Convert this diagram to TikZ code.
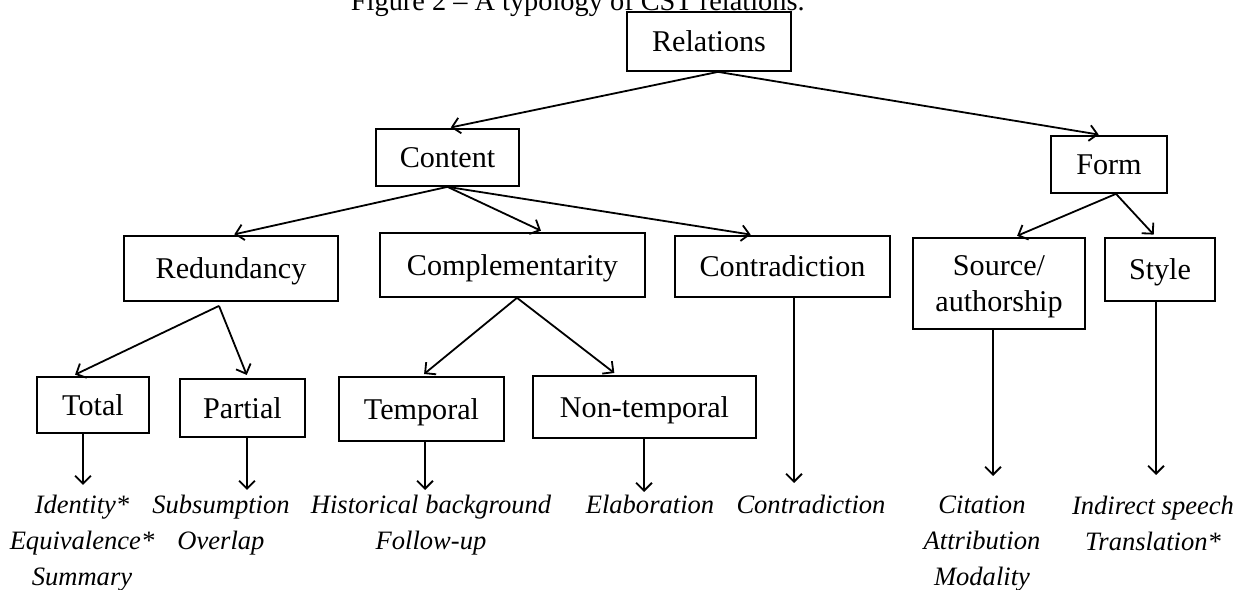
\documentclass[tikz,border=0pt]{standalone}
\usepackage{fontspec}
\setmainfont{Liberation Serif}
\usetikzlibrary{calc,arrows.meta}

\begin{document}
\begin{tikzpicture}[x=0.4444pt, y=-0.4444pt, line width=0.8pt,
  box/.style={draw, rectangle, inner sep=0pt, align=center, text height=8.9pt, text depth=0pt, font=\fontsize{13.4}{16}\selectfont},
  lbl/.style={anchor=north, inner sep=0pt, align=center, font=\fontsize{11.8}{16}\selectfont\itshape},
  arr/.style={-{Straight Barb[length=3.5pt,width=7pt]}},
  tree/.style={arr, shorten >=1.5pt}]
\useasboundingbox (0,0) rectangle (1235,590);
\node[anchor=base east, font=\fontsize{12.6}{16}\selectfont] (title) at (813,11) {Figure 2 – A typology of CST relations.};

% upper levels
\node[box, minimum width=72.9pt, minimum height=26.2pt] (rel) at (709,41.5) {Relations};
\node[box, minimum width=63.6pt, minimum height=25.3pt] (content) at (447.5,157.5) {Content};
\node[box, minimum width=51.6pt, minimum height=25.3pt] (form) at (1109,164.5) {Form};
\node[box, minimum width=95.1pt, minimum height=28.9pt] (red) at (231,268.5) {Redundancy};
\node[box, minimum width=117.8pt, minimum height=28.4pt] (comp) at (512.5,265) {Complementarity};
\node[box, minimum width=95.6pt, minimum height=27.1pt] (contr) at (782.5,266.5) {Contradiction};
\node[draw, inner sep=0pt, align=center, text depth=0pt, font=\fontsize{13.4}{16}\selectfont,
  minimum width=76.4pt, minimum height=40.4pt] (src) at (999,283.5) {Source/\\authorship};
\node[box, minimum width=48.9pt, minimum height=28pt] (sty) at (1160,269.5) {Style};

% lower level
\node[box, minimum width=49.8pt, minimum height=24.9pt] (total) at (93,405) {Total};
\node[box, minimum width=55.6pt, minimum height=25.8pt] (partial) at (242.5,408) {Partial};
\node[box, minimum width=73.3pt, minimum height=28.4pt] (temp) at (421.5,409) {Temporal};
\node[box, minimum width=99.1pt, minimum height=27.6pt] (nontemp) at (644.5,407) {Non-temporal};

\draw[tree] ($(rel.south)+(9,0)$) -- (content.north);
\draw[tree] ($(rel.south)+(9,0)$) -- ($(form.north)+(-7,0)$);
\draw[tree] (content.south) -- (red.north);
\draw[tree] (content.south) -- ($(comp.north)+(31.5,0)$);
\draw[tree] (content.south) -- ($(contr.north)+(-28.5,0)$);
\draw[tree] ($(form.south)+(7,0)$) -- ($(src.north)+(15,0)$);
\draw[tree] ($(form.south)+(7,0)$) -- ($(sty.north)+(-4,0)$);
\draw[tree] ($(red.south)+(-12,4)$) -- ($(total.north)+(-21,0)$);
\draw[tree] ($(red.south)+(-12,4)$) -- ($(partial.north)+(5.5,0)$);
\draw[tree] ($(comp.south)+(4.5,0)$) -- (temp.north);
\draw[tree] ($(comp.south)+(4.5,0)$) -- ($(nontemp.north)+(-27.5,0)$);

% relation types
\node[lbl] (l-total) at (82,494) {Identity*\\Equivalence*\\Summary};
\node[lbl] (l-partial) at (221,494) {Subsumption\\Overlap};
\node[lbl] (l-temp) at (431,494) {Historical background\\Follow-up};
\node[lbl] (l-nontemp) at (650,494) {Elaboration};
\node[lbl] (l-contr) at (811,494) {Contradiction};
\node[lbl] (l-src) at (982,495) {Citation\\Attribution\\Modality};
\node[lbl] (l-sty) at (1153,495) {Indirect speech\\Translation*};

\coordinate (e-total) at (83,485);
\coordinate (e-partial) at (247,490);
\coordinate (e-temp) at (425,490);
\coordinate (e-nontemp) at (644,492);
\coordinate (e-contr) at (794,483);
\coordinate (e-src) at (993,476);
\coordinate (e-sty) at (1156,475);
\draw[arr] (total.south -| e-total) -- (e-total);
\draw[arr] (partial.south -| e-partial) -- (e-partial);
\draw[arr] (temp.south -| e-temp) -- (e-temp);
\draw[arr] (nontemp.south -| e-nontemp) -- (e-nontemp);
\draw[arr] (contr.south -| e-contr) -- (e-contr);
\draw[arr] (src.south -| e-src) -- (e-src);
\draw[arr] (sty.south -| e-sty) -- (e-sty);
\end{tikzpicture}
\end{document}
